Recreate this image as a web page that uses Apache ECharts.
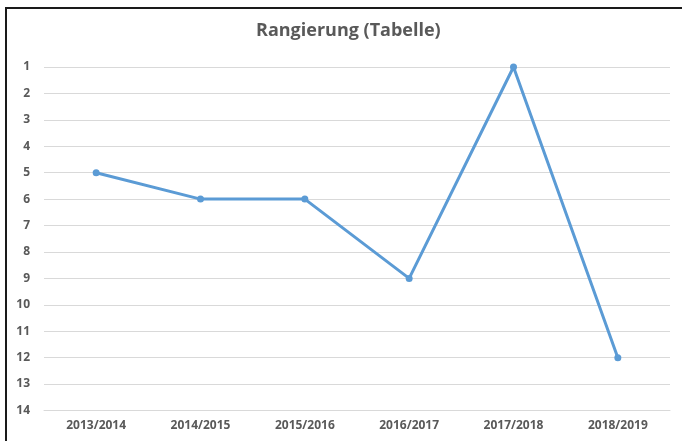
<!DOCTYPE html>
<html>
<head>
<meta charset="utf-8">
<script src="https://cdn.jsdelivr.net/npm/echarts@6/dist/echarts.min.js"></script>
<style>
html,body{margin:0;padding:0;background:#fff;}
#c{width:682px;height:441px;}
</style>
</head>
<body>
<div id="c"></div>
<script>
var titleText = 'Rangierung (Tabelle)';
var categories = ['2013/2014','2014/2015','2015/2016','2016/2017','2017/2018','2018/2019'];
var ranks = [5, 6, 6, 9, 1, 12];
var yMin = 1, yMax = 14, yStep = 1;

var chart = echarts.init(document.getElementById('c'), null, {renderer:'canvas'});
var font = 'Open Sans';
chart.setOption({
  animation: false,
  backgroundColor: '#ffffff',
  title: {
    text: titleText,
    left: 256,
    top: 22,
    padding: 0,
    textStyle: {fontFamily: font, fontWeight: 'bold', fontSize: 18, color: '#595959'}
  },
  grid: {left: 44, right: 12, top: 67, bottom: 30.5},
  xAxis: {
    type: 'category',
    data: categories,
    boundaryGap: true,
    axisLine: {show: true, lineStyle: {color: '#d9d9d9', width: 1}},
    axisTick: {show: false},
    axisLabel: {margin: 9, fontFamily: font, fontWeight: 'bold', fontSize: 12, color: '#595959'},
    splitLine: {show: false}
  },
  yAxis: {
    type: 'value',
    inverse: true,
    min: yMin, max: yMax, interval: yStep,
    axisLine: {show: false},
    axisTick: {show: false},
    axisLabel: {margin: 14, fontFamily: font, fontWeight: 'bold', fontSize: 12, color: '#595959'},
    splitLine: {show: true, lineStyle: {color: '#d9d9d9', width: 1}}
  },
  series: [{
    type: 'line',
    data: ranks,
    symbol: 'circle',
    symbolSize: 7,
    lineStyle: {color: '#5b9bd5', width: 3},
    itemStyle: {color: '#5b9bd5'}
  }],
  graphic: [
    {type: 'line', shape: {x1: 5, y1: 8, x2: 682, y2: 8}, style: {stroke: '#1a1a1a', lineWidth: 2}, silent: true},
    {type: 'line', shape: {x1: 6, y1: 8, x2: 6, y2: 441}, style: {stroke: '#1a1a1a', lineWidth: 2}, silent: true}
  ]
});
</script>
</body>
</html>
